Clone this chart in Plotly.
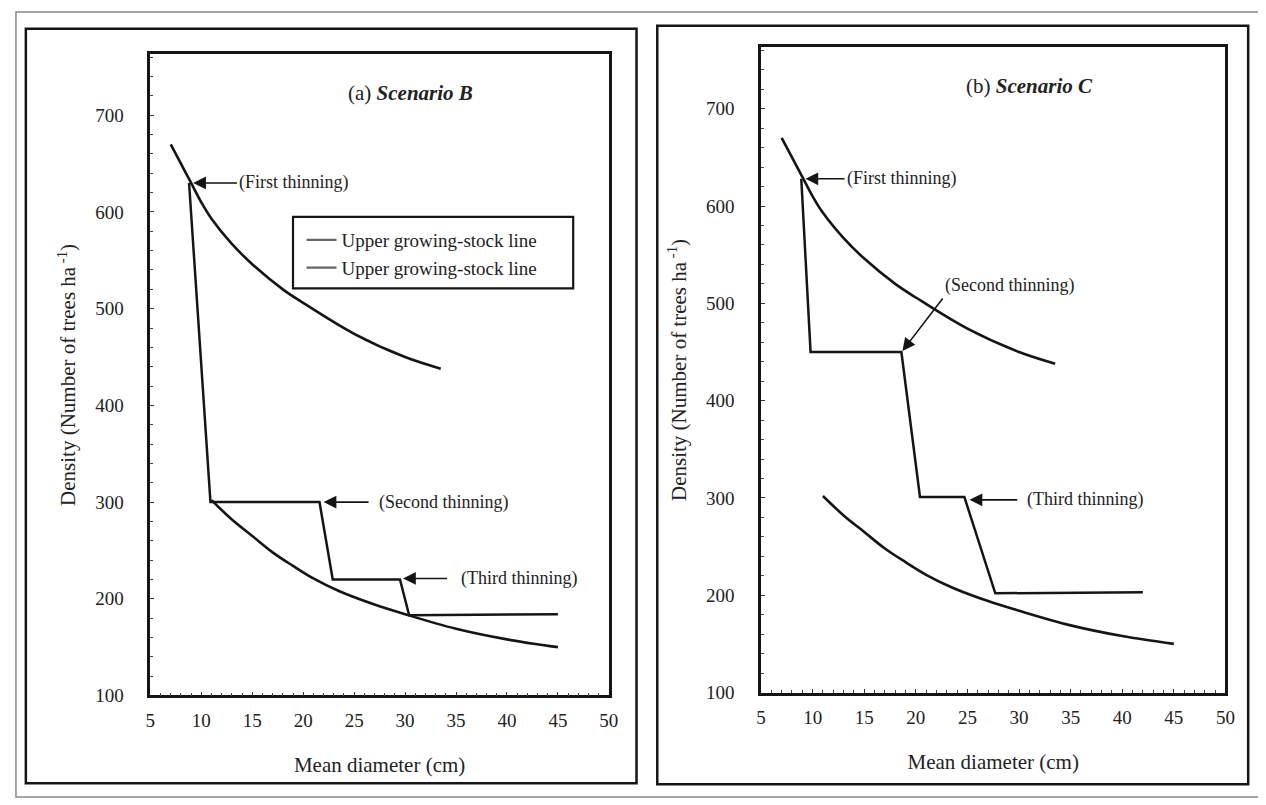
import plotly.graph_objects as go
from plotly.subplots import make_subplots

# ---- data ----
upper_x = [7, 8, 9, 10, 11, 13, 15, 18, 20, 25, 30, 33.5]
upper_y = [670, 650, 630, 610, 593, 567, 546, 520, 506, 474, 450, 438]
lower_x = [11, 13, 15, 17, 19, 21, 23.5, 27, 30, 35, 40, 45]
lower_y = [302, 282, 265, 248, 234, 221, 208, 194, 184, 169, 158, 150]

pathB_x = [8.8, 10.9, 21.6, 22.9, 29.5, 30.4, 45]
pathB_y = [630, 300, 300, 220, 220, 183, 184]
pathC_x = [8.9, 9.8, 18.6, 20.4, 24.7, 27.7, 42]
pathC_y = [628, 450, 450, 301, 301, 202, 203]

x_ticks = [5, 10, 15, 20, 25, 30, 35, 40, 45, 50]
y_ticks = [100, 200, 300, 400, 500, 600, 700]
legend_labels = ["Upper growing-stock line", "Upper growing-stock line"]

W, H = 1266, 805
FONT = "Liberation Serif"
INK = "#151515"

def px(x):
    return x / W

def py(y):
    return 1 - y / H

fig = make_subplots(rows=1, cols=2)

for col, path_x, path_y in [(1, pathB_x, pathB_y), (2, pathC_x, pathC_y)]:
    fig.add_trace(go.Scatter(x=upper_x, y=upper_y, mode="lines", line=dict(color=INK, width=2.6, shape="spline"),
                             showlegend=False), 1, col)
    fig.add_trace(go.Scatter(x=lower_x, y=lower_y, mode="lines", line=dict(color=INK, width=2.6, shape="spline"),
                             showlegend=False), 1, col)
    fig.add_trace(go.Scatter(x=path_x, y=path_y, mode="lines", line=dict(color=INK, width=2.5),
                             showlegend=False), 1, col)

# legend entries (left panel)
for lab in legend_labels:
    fig.add_trace(go.Scatter(x=[None], y=[None], mode="lines", line=dict(color="#666", width=2.2),
                             name=lab, showlegend=True), 1, 1)

tick_font = dict(family=FONT, size=19, color="#222")
title_font = dict(family=FONT, size=21, color="#222")

ax_common = dict(showline=True, linecolor=INK, linewidth=2.5, mirror=True, showgrid=False, zeroline=False,
                 ticks="inside", ticklen=4, tickcolor="#333",
                 minor=dict(ticks="inside", ticklen=3, tickcolor="#444"))

xdoms = [[px(139), px(603)], [px(757), px(1227)]]
ydoms = [[py(697), py(47)], [py(694), py(40)]]
for i in range(2):
    sfx = "" if i == 0 else "2"
    fig.layout["xaxis" + sfx] = dict(
        **ax_common, domain=xdoms[i], range=[5, 50], tickvals=x_ticks, minor_dtick=1, ticklabelstandoff=6,
        tickfont=tick_font,
        title=dict(text="Mean diameter (cm)", font=title_font, standoff=28),
        anchor="y" + sfx)
    fig.layout["yaxis" + sfx] = dict(
        **ax_common, domain=ydoms[i], range=[100, 763], tickvals=y_ticks, minor_dtick=20, ticklabelstandoff=20,
        tickfont=tick_font,
        title=dict(text="Density (Number of trees ha<sup> -1</sup>)", font=title_font, standoff=14),
        anchor="x" + sfx)

ann = []
def callout(xref, yref, tip, tail, t, yanchor="middle", gap=0):
    # text box anchored (left edge) at the arrow tail
    ann.append(dict(x=tip[0], y=tip[1], ax=tail[0], ay=tail[1], xref=xref, yref=yref, axref=xref, ayref=yref,
                    text=t, showarrow=True, arrowhead=2, arrowsize=1.6, arrowwidth=1.6, arrowcolor=INK,
                    startstandoff=gap, xanchor="left", yanchor=yanchor,
                    font=dict(family=FONT, size=18, color="#222")))

# left panel
callout("x", "y", (9.2, 630), (13.5, 630), "(First thinning)")
callout("x", "y", (22.0, 300), (27.2, 300), "(Second thinning)", gap=8)
callout("x", "y", (29.8, 221), (35.3, 221), "(Third thinning)", gap=12)
ann.append(dict(x=30.5, y=723, xref="x", yref="y", text="(a) <b><i>Scenario B</i></b>", showarrow=False,
                font=dict(family=FONT, size=21, color="#222")))
# right panel
callout("x2", "y2", (9.3, 628), (13.1, 628), "(First thinning)")
callout("x2", "y2", (18.7, 451), (22.6, 505), "(Second thinning)", yanchor="bottom")
callout("x2", "y2", (25.2, 298), (30.6, 298), "(Third thinning)", gap=8)
ann.append(dict(x=31.0, y=723, xref="x2", yref="y2", text="(b) <b><i>Scenario C</i></b>", showarrow=False,
                font=dict(family=FONT, size=21, color="#222")))

shapes = [
    dict(type="rect", xref="paper", yref="paper", x0=px(3), x1=px(1262), y0=py(800), y1=py(4),
         line=dict(color="#888", width=1.5)),
    dict(type="rect", xref="paper", yref="paper", x0=px(13), x1=px(631), y0=py(786), y1=py(21),
         line=dict(color=INK, width=2.5)),
    dict(type="rect", xref="paper", yref="paper", x0=px(652), x1=px(1250), y0=py(787), y1=py(18),
         line=dict(color=INK, width=2.5)),
    # legend frame, in left-panel data units
    dict(type="rect", xref="x", yref="y", x0=19, x1=46.5, y0=521, y1=595,
         line=dict(color=INK, width=2.2), fillcolor="white", layer="below"),
]

fig.update_layout(
    width=W, height=H, margin=dict(l=0, r=0, t=0, b=0),
    font=dict(family=FONT, color="#222"),
    paper_bgcolor="white", plot_bgcolor="white",
    annotations=ann, shapes=shapes,
    legend=dict(x=px(292), y=py(216), xanchor="left", yanchor="top", borderwidth=0,
                bgcolor="rgba(0,0,0,0)", font=dict(family=FONT, size=19, color="#222"), tracegroupgap=0,
                itemwidth=30),
)

fig.write_html("out.html")
